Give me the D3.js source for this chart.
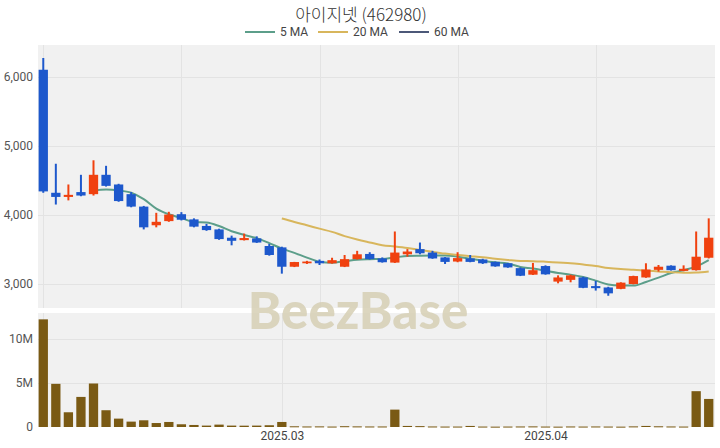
<!DOCTYPE html>
<html><head><meta charset="utf-8">
<script src="https://cdn.jsdelivr.net/npm/d3@7"></script>
<style>html,body{margin:0;padding:0;background:#fff;}svg{display:block;font-family:Roboto,"Noto Sans CJK KR",sans-serif;}</style>
</head><body><svg id="c" width="720" height="448"></svg>
<script>
const title = "아이지넷 (462980)";
const dates = ["2025-02-04","2025-02-05","2025-02-06","2025-02-07","2025-02-10","2025-02-11","2025-02-12","2025-02-13","2025-02-14","2025-02-17","2025-02-18","2025-02-19","2025-02-20","2025-02-21","2025-02-24","2025-02-25","2025-02-26","2025-02-27","2025-02-28",
"2025-03-03","2025-03-04","2025-03-05","2025-03-06","2025-03-07","2025-03-10","2025-03-11","2025-03-12","2025-03-13","2025-03-14","2025-03-17","2025-03-18","2025-03-19","2025-03-20","2025-03-21","2025-03-24","2025-03-25","2025-03-26","2025-03-27","2025-03-28","2025-03-31",
"2025-04-01","2025-04-02","2025-04-03","2025-04-04","2025-04-07","2025-04-08","2025-04-09","2025-04-10","2025-04-11","2025-04-14","2025-04-15","2025-04-16","2025-04-17","2025-04-18"];
const open  = [6100,4320,4260,4330,4300,4580,4440,4300,4120,3850,3910,4010,3935,3840,3790,3670,3635,3660,3550,3530,3250,3300,3335,3300,3250,3360,3435,3370,3310,3430,3505,3455,3385,3325,3370,3355,3320,3300,3230,3135,3260,3035,3060,3095,2970,2950,2930,3000,3095,3205,3265,3190,3200,3380];
const high  = [6270,4740,4440,4580,4790,4710,4450,4330,4130,4030,4045,4040,3950,3870,3800,3700,3730,3690,3580,3540,3320,3335,3355,3380,3420,3480,3460,3385,3760,3505,3600,3480,3390,3460,3420,3365,3325,3305,3240,3305,3270,3125,3135,3105,3045,2960,3025,3120,3300,3275,3270,3270,3760,3950];
const low   = [4320,4150,4210,4270,4280,4410,4190,4110,3790,3820,3900,3920,3820,3770,3640,3560,3630,3595,3410,3150,3245,3290,3275,3295,3245,3355,3355,3310,3305,3395,3430,3365,3290,3315,3315,3290,3250,3235,3115,3130,3135,3010,3025,2940,2905,2830,2925,2995,3090,3180,3195,3185,3195,3370];
const close = [4340,4260,4290,4280,4580,4420,4200,4120,3820,3900,4005,3930,3830,3780,3650,3625,3665,3600,3420,3250,3318,3325,3300,3345,3360,3430,3360,3315,3455,3470,3445,3370,3320,3375,3320,3300,3255,3240,3120,3200,3140,3095,3125,2945,2940,2865,3020,3115,3210,3250,3200,3220,3395,3670];
const volume = [12200000,4890000,1670000,3410000,4930000,1900000,950000,610000,760000,450000,570000,310000,230000,160000,270000,160000,150000,160000,200000,570000,
80000,60000,70000,50000,90000,70000,60000,60000,1970000,
120000,100000,60000,50000,50000,120000,50000,40000,50000,60000,70000,50000,40000,60000,50000,60000,50000,40000,70000,120000,80000,60000,50000,4060000,3180000];
const maPeriods = [5,20,60];
const maLabels = ["5 MA","20 MA","60 MA"];
const maColors = ["#5c9e8a","#d8b65c","#4c5878"];
const priceTicks = [3000,4000,5000,6000];
const volumeTicks = [0,5000000,10000000];
const volumeTickLabels = ["0","5M","10M"];
const xTickDates = ["2025-03-03","2025-04-01"];
const xTickLabels = ["2025.03","2025.04"];
const priceGridDates = ["2025-02-04","2025-02-19","2025-03-06","2025-03-21","2025-04-07"];

const svg = d3.select("#c");
const L = 37, R = 715;
const pTop = 45, pBot = 308, vTop = 313, vBot = 427;
const UP = "#f0410f", DOWN = "#1d58cc", VOL = "#7a5a14", BG = "#f1f1f1", GRID = "#e3e3e3";

const x = d3.scalePoint().domain(dates).range([L, R]).padding(0.5);
const step = x.step();
const bw = step * 0.74;
const y = d3.scaleLinear().domain([2653, 6458]).range([pBot, pTop]);
const yv = d3.scaleLinear().domain([0, 12920000]).range([vBot, vTop]);

// backgrounds
svg.append("rect").attr("x", L+1).attr("y", pTop).attr("width", R-L-1).attr("height", pBot-pTop).attr("fill", BG);
svg.append("rect").attr("x", L+1).attr("y", vTop).attr("width", R-L-1).attr("height", vBot-vTop).attr("fill", BG);

// grids
const gP = svg.append("g");
gP.selectAll("line.h").data(priceTicks).join("line")
  .attr("x1", L+1).attr("x2", R).attr("y1", d=>Math.round(y(d))+0.5).attr("y2", d=>Math.round(y(d))+0.5)
  .attr("stroke", GRID).attr("stroke-width",1);
gP.selectAll("line.v").data(priceGridDates).join("line")
  .attr("y1", pTop).attr("y2", pBot).attr("x1", d=>Math.round(x(d))+0.5).attr("x2", d=>Math.round(x(d))+0.5)
  .attr("stroke", GRID).attr("stroke-width",1);
const gV = svg.append("g");
gV.selectAll("line.h").data(volumeTicks.slice(1)).join("line")
  .attr("x1", L+1).attr("x2", R).attr("y1", d=>Math.round(yv(d))+0.5).attr("y2", d=>Math.round(yv(d))+0.5)
  .attr("stroke", GRID);
gV.selectAll("line.v").data([dates[0]].concat(xTickDates)).join("line")
  .attr("y1", vTop).attr("y2", vBot).attr("x1", d=>Math.round(x(d))+0.5).attr("x2", d=>Math.round(x(d))+0.5)
  .attr("stroke", GRID);

// watermark
svg.append("text").attr("x", 358).attr("y", 329).attr("text-anchor","middle")
  .attr("font-family","Lato, 'Open Sans', sans-serif").attr("font-weight",900).attr("font-size",51)
  .attr("fill","#d6cfb5").attr("opacity",0.85).text("BeezBase");

// axes labels
const yAxis = d3.axisLeft(y).tickValues(priceTicks).tickFormat(d3.format(",")).tickSize(0).tickPadding(4);
svg.append("g").attr("transform",`translate(${L},0)`).call(yAxis)
  .call(g=>g.select(".domain").remove())
  .call(g=>g.selectAll("text").attr("font-size",12).attr("fill","#555").attr("font-family","Roboto, sans-serif"));
const vAxis = d3.axisLeft(yv).tickValues(volumeTicks).tickFormat((d,i)=>volumeTickLabels[i]).tickSize(0).tickPadding(4);
svg.append("g").attr("transform",`translate(${L},0)`).call(vAxis)
  .call(g=>g.select(".domain").remove())
  .call(g=>g.selectAll("text").attr("font-size",12).attr("fill","#555").attr("font-family","Roboto, sans-serif"));
const xAxis = d3.axisBottom(x).tickValues(xTickDates).tickFormat((d,i)=>xTickLabels[i]).tickSize(0).tickPadding(4);
svg.append("g").attr("transform",`translate(0,${vBot})`).call(xAxis)
  .call(g=>g.select(".domain").remove())
  .call(g=>g.selectAll("text").attr("font-size",12).attr("fill","#444").attr("font-family","Roboto, sans-serif"));

// volume bars
svg.append("g").selectAll("rect").data(volume).join("rect")
  .attr("x",(d,i)=>x(dates[i])-bw/2).attr("width",bw)
  .attr("y",d=>yv(d)).attr("height",d=>Math.max(1,vBot-yv(d))).attr("fill",VOL);

// MAs (computed from close)
maPeriods.forEach((p,k)=>{
  const pts=[];
  for(let i=p-1;i<close.length;i++){ pts.push([x(dates[i]), y(d3.mean(close.slice(i-p+1,i+1)))]); }
  if(pts.length>1){
    svg.append("path").attr("d", d3.line().curve(d3.curveMonotoneX)(pts))
      .attr("fill","none").attr("stroke",maColors[k]).attr("stroke-width",2);
  }
});

// candles
const gc = svg.append("g");
dates.forEach((d,i)=>{
  const up = close[i] >= open[i];
  const col = up ? UP : DOWN;
  const cx = x(d);
  gc.append("line").attr("x1",cx).attr("x2",cx).attr("y1",y(high[i])).attr("y2",y(low[i]))
    .attr("stroke",col).attr("stroke-width",2);
  const t = y(Math.max(open[i],close[i])), b = y(Math.min(open[i],close[i]));
  gc.append("rect").attr("x",cx-bw/2).attr("width",bw).attr("y",t).attr("height",Math.max(1.5,b-t)).attr("fill",col);
});

// title & legend
svg.append("text").attr("x",361).attr("y",21).attr("text-anchor","middle").attr("font-size",17)
  .attr("fill","#333").attr("font-family","'Noto Sans CJK KR', sans-serif").attr("font-weight",300).text(title);
const legX = [245, 318, 399];
maLabels.forEach((lab,k)=>{
  const g = svg.append("g").attr("transform",`translate(${legX[k]},32)`);
  g.append("line").attr("x1",0).attr("x2",30).attr("y1",0).attr("y2",0).attr("stroke",maColors[k]).attr("stroke-width",2);
  g.append("text").attr("x",35).attr("y",4).attr("font-size",12).attr("fill","#444").attr("font-family","Roboto, sans-serif").text(lab);
});
</script></body></html>
